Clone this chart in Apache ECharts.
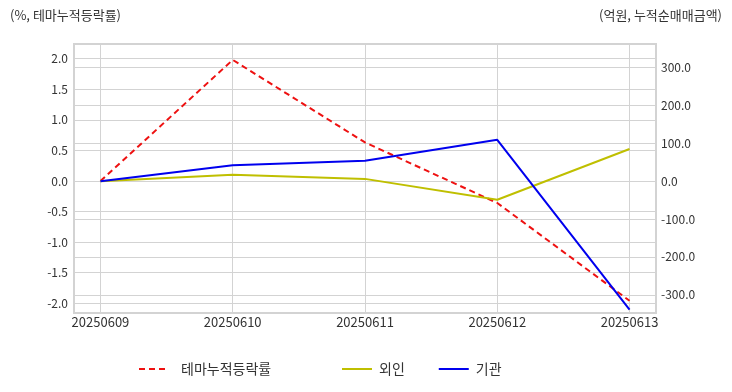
<!DOCTYPE html>
<html>
<head>
<meta charset="utf-8">
<script src="https://cdn.jsdelivr.net/npm/echarts@6/dist/echarts.min.js"></script>
<style>
html,body{margin:0;padding:0;background:#fff;}
#c{width:732px;height:392px;}
</style>
</head>
<body>
<div id="c"></div>
<script>
const categories = ['20250609', '20250610', '20250611', '20250612', '20250613'];
const themeReturn = [0.0, 1.98, 0.63, -0.36, -1.96];   // %, left axis
const foreign = [0.0, 17, 6, -49, 85];                  // 억원, right axis
const institution = [0.0, 42, 54, 109, -339];           // 억원, right axis
const leftTicks = [-2.0, -1.5, -1.0, -0.5, 0.0, 0.5, 1.0, 1.5, 2.0];
const rightTicks = [-300, -200, -100, 0, 100, 200, 300];
const seriesNames = ['테마누적등락률', '외인', '기관'];

const FONT = '"Noto Sans CJK KR", "Noto Sans", sans-serif';
const catIdx = categories.map((c, i) => i);
const toPts = arr => arr.map((v, i) => [i, v]);

const chart = echarts.init(document.getElementById('c'), null, {renderer: 'canvas'});
chart.setOption({
  animation: false,
  backgroundColor: '#ffffff',
  textStyle: {fontFamily: FONT},
  title: [
    {text: '(%, 테마누적등락률)', left: 10, top: 9, padding: 0,
     textStyle: {fontSize: 13, fontWeight: 'normal', color: '#333', fontFamily: FONT}},
    {text: '(억원, 누적순매매금액)', right: 10, top: 9, padding: 0,
     textStyle: {fontSize: 13, fontWeight: 'normal', color: '#333', fontFamily: FONT}}
  ],
  legend: [
    {data: [seriesNames[0]], left: 138, top: 362, padding: 0, itemWidth: 30, itemHeight: 14, itemGap: 28,
     itemStyle: {opacity: 0},
     textStyle: {fontSize: 14, color: '#333', fontFamily: FONT, padding: [0, 0, 0, 7]}},
    {data: [seriesNames[1], seriesNames[2]], left: 341, top: 362, padding: 0, itemWidth: 30, itemHeight: 14, itemGap: 33,
     itemStyle: {opacity: 0},
     textStyle: {fontSize: 14, color: '#333', fontFamily: FONT, padding: [0, 0, 0, 2]}}
  ],
  grid: {left: 74, right: 76, top: 44, bottom: 79, show: true, borderColor: '#d3d3d3', borderWidth: 2},
  xAxis: {
    type: 'value', min: -0.2, max: 4.2,
    axisLine: {show: false},
    axisTick: {show: false, customValues: catIdx},
    axisLabel: {customValues: catIdx, formatter: v => categories[Math.round(v)],
                color: '#333', fontSize: 13, margin: 3, fontFamily: FONT},
    splitLine: {show: true, lineStyle: {color: '#d3d3d3', width: 1}}
  },
  yAxis: [
    {type: 'value', min: -2.16, max: 2.24,
     axisLine: {show: false},
     axisTick: {show: false, customValues: leftTicks},
     axisLabel: {customValues: leftTicks, formatter: v => v.toFixed(1),
                 color: '#333', fontSize: 12, margin: 6, fontFamily: FONT},
     splitLine: {show: true, lineStyle: {color: '#d3d3d3', width: 1}}},
    {type: 'value', min: -348, max: 362, position: 'right',
     axisLine: {show: false},
     axisTick: {show: false, customValues: rightTicks},
     axisLabel: {customValues: rightTicks, formatter: v => v.toFixed(1),
                 color: '#333', fontSize: 12, margin: 5, fontFamily: FONT},
     splitLine: {show: true, lineStyle: {color: '#d3d3d3', width: 1}}}
  ],
  series: [
    {name: seriesNames[0], type: 'line', yAxisIndex: 0, data: toPts(themeReturn),
     symbol: 'none', color: '#ee1111',
     lineStyle: {width: 2, type: [6, 4], color: '#ee1111'}},
    {name: seriesNames[1], type: 'line', yAxisIndex: 1, data: toPts(foreign),
     symbol: 'none', color: '#bfbf00',
     lineStyle: {width: 2, color: '#bfbf00'}},
    {name: seriesNames[2], type: 'line', yAxisIndex: 1, data: toPts(institution),
     symbol: 'none', color: '#0000ee',
     lineStyle: {width: 2, color: '#0000ee'}}
  ]
});
</script>
</body>
</html>
